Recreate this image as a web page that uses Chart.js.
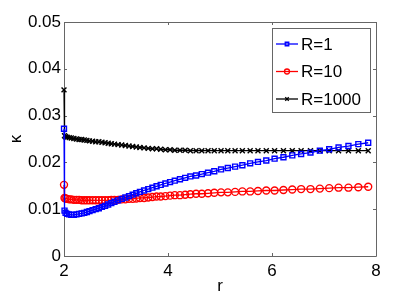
<!DOCTYPE html>
<html>
<head>
<meta charset="utf-8">
<script src="https://cdn.jsdelivr.net/npm/chart.js@4.4.0/dist/chart.umd.min.js"></script>
<style>
    html, body { margin: 0; padding: 0; background: #fff; }
    #wrap { width: 415px; height: 297px; }
</style>
</head>
<body>
<div id="wrap"><canvas id="kappa_chart" width="415" height="297"></canvas></div>
<script>
// r grid (denser close to r = 2)
const rValues = [2.0, 2.01, 2.03, 2.06, 2.10, 2.14, 2.19, 2.24, 2.29, 2.34, 2.39, 2.44, 2.49, 2.55, 2.61,
    2.67, 2.73, 2.79, 2.85, 2.91, 2.97, 3.04, 3.11, 3.18, 3.25, 3.32, 3.39, 3.46, 3.54, 3.62, 3.70, 3.78,
    3.86, 3.95, 4.04, 4.13, 4.23, 4.33, 4.43, 4.54, 4.65, 4.77, 4.89, 5.02, 5.15, 5.29, 5.43, 5.58, 5.73,
    5.89, 6.05, 6.22, 6.39, 6.56, 6.74, 6.92, 7.10, 7.28, 7.47, 7.66, 7.85];

const kappaR1 = [0.0272, 0.0097, 0.0092, 0.0090, 0.0089, 0.0088, 0.0088, 0.0089, 0.0090, 0.0091, 0.0092,
    0.0094, 0.0096, 0.0098, 0.0100, 0.0102, 0.0105, 0.0107, 0.0110, 0.0113, 0.0116, 0.0119, 0.0122, 0.0125,
    0.0128, 0.0131, 0.0134, 0.0137, 0.0140, 0.0143, 0.0146, 0.0149, 0.0152, 0.0155, 0.0158, 0.0161, 0.0164,
    0.0167, 0.0170, 0.0172, 0.0175, 0.0178, 0.0181, 0.0185, 0.0188, 0.0191, 0.0194, 0.0198, 0.0201, 0.0204,
    0.0208, 0.0211, 0.0215, 0.0218, 0.0221, 0.0225, 0.0228, 0.0232, 0.0235, 0.0239, 0.0242];

const kappaR10 = [0.0152, 0.0124, 0.0123, 0.0122, 0.0121, 0.0121, 0.0120, 0.0120, 0.0120, 0.0119, 0.0119,
    0.0119, 0.0119, 0.0119, 0.0119, 0.0119, 0.0119, 0.0119, 0.0119, 0.0120, 0.0120, 0.0120, 0.0121, 0.0121,
    0.0122, 0.0122, 0.0123, 0.0124, 0.0124, 0.0125, 0.0126, 0.0127, 0.0127, 0.0128, 0.0129, 0.0130, 0.0130,
    0.0131, 0.0132, 0.0133, 0.0133, 0.0134, 0.0135, 0.0136, 0.0136, 0.0137, 0.0138, 0.0138, 0.0139, 0.0140,
    0.0140, 0.0141, 0.0142, 0.0143, 0.0143, 0.0144, 0.0145, 0.0146, 0.0146, 0.0147, 0.0148];

const kappaR1000 = [0.0355, 0.0257, 0.0255, 0.0254, 0.0253, 0.0252, 0.0251, 0.0250, 0.0249, 0.0249, 0.0248,
    0.0247, 0.0246, 0.0245, 0.0244, 0.0244, 0.0243, 0.0242, 0.0241, 0.0240, 0.0239, 0.0238, 0.0237, 0.0236,
    0.0235, 0.0234, 0.0233, 0.0232, 0.0231, 0.0230, 0.0229, 0.0229, 0.0228, 0.0227, 0.0227, 0.0226, 0.0226,
    0.0226, 0.0225, 0.0225, 0.0225, 0.0225, 0.0225, 0.0225, 0.0225, 0.0225, 0.0225, 0.0225, 0.0225, 0.0225,
    0.0225, 0.0225, 0.0225, 0.0225, 0.0225, 0.0225, 0.0225, 0.0225, 0.0225, 0.0225, 0.0225];

const seriesNames = ["R=1", "R=10", "R=1000"];
const xTicks = [2, 4, 6, 8];
const yTicks = [0, 0.01, 0.02, 0.03, 0.04, 0.05];

const FONT = "'Liberation Sans', Arial, sans-serif";
const AXIS_COLOR = "#666";

function toPoints(ys) {
    return rValues.map(function (r, i) { return { x: r, y: ys[i] }; });
}

function makeSet(label, ys, color, style) {
    return {
        label: label,
        data: toPoints(ys),
        borderColor: color,
        backgroundColor: "transparent",
        borderWidth: 1.3,
        pointStyle: style,
        pointRadius: 3.5,
        pointBorderWidth: 1.4,
        pointBorderColor: color,
        pointBackgroundColor: "transparent",
        tension: 0,
        clip: false
    };
}

// frame round the plot with inward ticks, MATLAB style (drawn under the lines)
const boxPlugin = {
    id: "boxPlugin",
    beforeDatasetsDraw: function (chart) {
        const ctx = chart.ctx, a = chart.chartArea;
        const xs = chart.scales.x, ys = chart.scales.y;
        const len = 3;
        ctx.save();
        ctx.strokeStyle = AXIS_COLOR;
        ctx.lineWidth = 1;
        ctx.beginPath();
        ctx.rect(Math.round(a.left) + 0.5, Math.round(a.top) + 0.5,
            Math.round(a.right - a.left), Math.round(a.bottom - a.top));
        xTicks.forEach(function (v) {
            const px = Math.round(xs.getPixelForValue(v)) + 0.5;
            ctx.moveTo(px, a.bottom); ctx.lineTo(px, a.bottom - len);
            ctx.moveTo(px, a.top); ctx.lineTo(px, a.top + len);
        });
        yTicks.forEach(function (v) {
            const py = Math.round(ys.getPixelForValue(v)) + 0.5;
            ctx.moveTo(a.left, py); ctx.lineTo(a.left + len, py);
            ctx.moveTo(a.right, py); ctx.lineTo(a.right - len, py);
        });
        ctx.stroke();
        ctx.restore();
    }
};

// legend box inside the axes, top right
const legendBox = {
    id: "legendBox",
    afterDraw: function (chart) {
        const ctx = chart.ctx;
        const bx = 272.5, by = 28.5, bw = 98, bh = 84;
        ctx.save();
        ctx.fillStyle = "#fff";
        ctx.fillRect(bx, by, bw, bh);
        ctx.strokeStyle = AXIS_COLOR;
        ctx.lineWidth = 1;
        ctx.strokeRect(bx, by, bw, bh);
        ctx.font = "17px " + FONT;
        ctx.textBaseline = "middle";
        chart.data.datasets.forEach(function (ds, i) {
            const cy = 44 + i * 27.5;
            ctx.strokeStyle = ds.borderColor;
            ctx.lineWidth = 1.3;
            ctx.beginPath();
            ctx.moveTo(276, cy); ctx.lineTo(298, cy);
            ctx.stroke();
            ctx.fillStyle = "rgba(0,0,0,0)";
            Chart.helpers.drawPoint(ctx, {
                pointStyle: ds.pointStyle, rotation: 0, radius: 2.5, borderWidth: 1.3
            }, 287, cy);
            ctx.fillStyle = "#000";
            ctx.fillText(ds.label, 301, cy + 1);
        });
        ctx.restore();
    }
};

let chart = new Chart(document.getElementById("kappa_chart").getContext("2d"), {
    type: "line",
    data: {
        datasets: [
            makeSet(seriesNames[0], kappaR1, "#0000ff", "rect"),
            makeSet(seriesNames[1], kappaR10, "#ff0000", "circle"),
            makeSet(seriesNames[2], kappaR1000, "#000000", "crossRot")
        ]
    },
    options: {
        responsive: false,
        devicePixelRatio: 1,
        animation: false,
        layout: { padding: { top: 22, right: 39, left: 0, bottom: 0 } },
        plugins: {
            legend: { display: false },
            tooltip: { enabled: false }
        },
        scales: {
            x: {
                type: "linear",
                min: 2,
                max: 8,
                afterBuildTicks: function (scale) {
                    scale.ticks = xTicks.map(function (v) { return { value: v }; });
                },
                afterFit: function (scale) { scale.height = 41; },
                grid: { display: false, drawTicks: false },
                border: { display: false },
                ticks: {
                    padding: 5,
                    color: "#000",
                    font: { family: FONT, size: 17 },
                    maxRotation: 0
                },
                title: {
                    display: true,
                    text: "r",
                    color: "#000",
                    font: { family: FONT, size: 17 },
                    padding: { top: 0, bottom: 0 }
                }
            },
            y: {
                type: "linear",
                min: 0,
                max: 0.05,
                afterBuildTicks: function (scale) {
                    scale.ticks = yTicks.map(function (v) { return { value: v }; });
                },
                afterFit: function (scale) { scale.width = 64; },
                grid: { display: false, drawTicks: false },
                border: { display: false },
                ticks: {
                    padding: 3,
                    color: "#000",
                    font: { family: FONT, size: 17 },
                    callback: function (v) { return v === 0 ? "0" : v.toFixed(2); }
                },
                title: {
                    display: true,
                    text: "κ",
                    color: "#000",
                    font: { family: FONT, size: 17 },
                    padding: { top: 6, bottom: 0 }
                }
            }
        }
    },
    plugins: [boxPlugin, legendBox]
});
</script>
</body>
</html>
